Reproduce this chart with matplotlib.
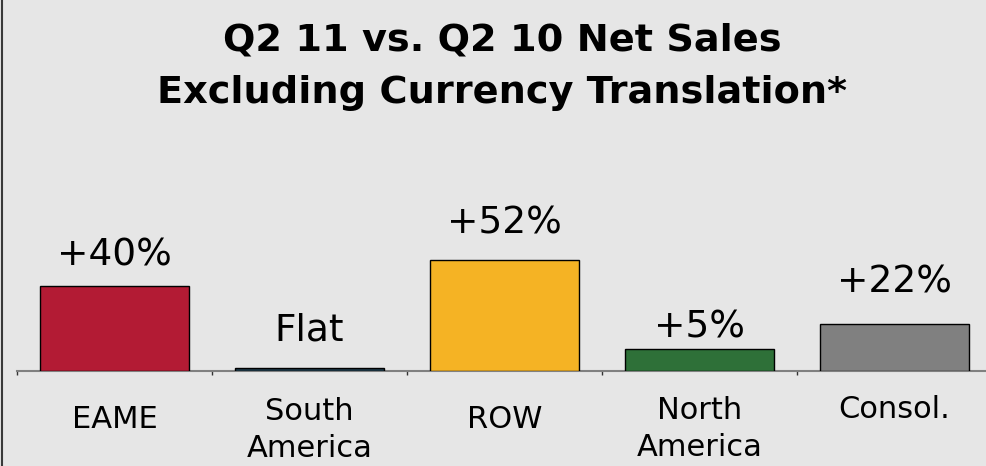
import numpy as np
import matplotlib.pyplot as plt
from matplotlib.lines import Line2D

# data
regions = ['EAME', 'South\nAmerica', 'ROW', 'North\nAmerica', 'Consol.']
bar_heights = [40, 1.2, 52, 10, 22]          # drawn bar heights
value_labels = ['+40%', 'Flat', '+52%', '+5%', '+22%']
colors = ['#B31B34', '#1E3B4A', '#F5B324', '#2E7038', '#808080']

# label placement (pixels)
value_gap = [20, 28, 27, 12, 31]        # bar top -> label baseline
cat_drop = [57, 86, 57, 85, 47]         # axis line -> last baseline

W, H = 986, 466
fig = plt.figure(figsize=(W / 100, H / 100), dpi=100)
fig.patch.set_facecolor('#E6E6E6')

base_y = 370.7
px_per_unit = 2.125
ax_h = 60 * px_per_unit
ax = fig.add_axes([17 / W, (H - base_y) / H, 975 / W, ax_h / H])
ax.set_facecolor('none')

x = np.arange(len(regions))
ax.bar(x, bar_heights, width=0.764, color=colors, edgecolor='black', linewidth=1.0, zorder=3)
ax.set_xlim(-0.5, len(regions) - 0.5)
ax.set_ylim(0, 60)

for s in ['top', 'left', 'right']:
    ax.spines[s].set_visible(False)
ax.spines['bottom'].set_color('#808080')
ax.spines['bottom'].set_linewidth(1.5)
ax.set_yticks([])
ax.set_xticks(np.arange(len(regions) + 1) - 0.5)
ax.set_xticklabels([])
ax.tick_params(axis='x', direction='out', length=3, width=1, color='#333333')

for i in range(len(regions)):
    ax.annotate(value_labels[i], xy=(x[i], bar_heights[i]), xytext=(0, value_gap[i]),
                textcoords='offset pixels', ha='center', va='baseline',
                fontsize=27, color='black', annotation_clip=False)
    ax.annotate(regions[i], xy=(x[i], 0), xytext=(0, -cat_drop[i]),
                textcoords='offset pixels', ha='center', va='baseline',
                multialignment='center', linespacing=1.32,
                fontsize=22, color='black', annotation_clip=False)

# title, baseline of the second line
fig.text(502 / W, 1 - 103 / H, 'Q2 11 vs. Q2 10 Net Sales\nExcluding Currency Translation*',
         ha='center', va='baseline', multialignment='center', linespacing=1.58,
         fontsize=27.5, fontweight='bold', color='black')

# left frame line
fig.add_artist(Line2D([1.5 / W, 1.5 / W], [0, 1], transform=fig.transFigure,
                      color='#3A3A3A', linewidth=1.5))

fig.savefig('out.png', dpi=100, facecolor=fig.get_facecolor())
